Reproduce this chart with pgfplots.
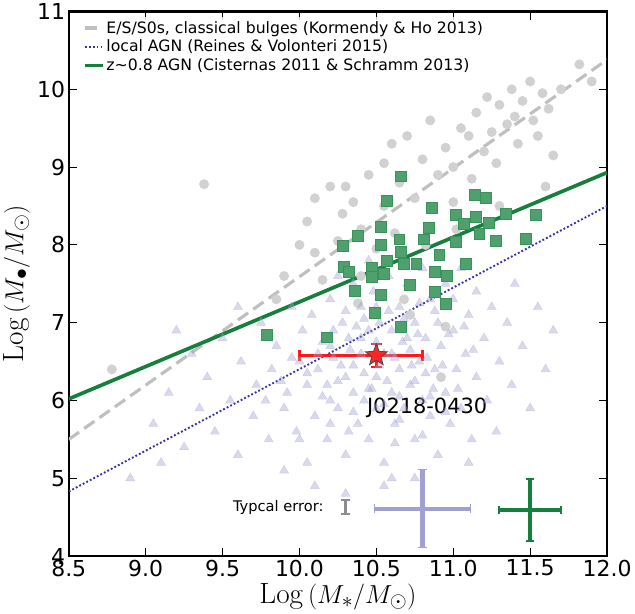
\documentclass[border=0pt]{standalone}
\usepackage{pgfplots}
\pgfplotsset{compat=1.18}
\usepackage{fontspec}
\setmainfont{DejaVu Sans}
\newfontfamily\lmr{Latin Modern Roman}
\definecolor{mgreen}{RGB}{20,128,60}
\definecolor{lav}{RGB}{160,160,210}
\pgfdeclareplotmark{fstar}{%
  \pgfpathmoveto{\pgfpointpolar{90}{\pgfplotmarksize}}%
  \pgfpathlineto{\pgfpointpolar{126}{0.42\pgfplotmarksize}}%
  \pgfpathlineto{\pgfpointpolar{162}{\pgfplotmarksize}}%
  \pgfpathlineto{\pgfpointpolar{198}{0.42\pgfplotmarksize}}%
  \pgfpathlineto{\pgfpointpolar{234}{\pgfplotmarksize}}%
  \pgfpathlineto{\pgfpointpolar{270}{0.42\pgfplotmarksize}}%
  \pgfpathlineto{\pgfpointpolar{306}{\pgfplotmarksize}}%
  \pgfpathlineto{\pgfpointpolar{342}{0.42\pgfplotmarksize}}%
  \pgfpathlineto{\pgfpointpolar{18}{\pgfplotmarksize}}%
  \pgfpathlineto{\pgfpointpolar{54}{0.42\pgfplotmarksize}}%
  \pgfpathclose\pgfusepathqfillstroke}
\begin{document}
\begin{tikzpicture}
\begin{axis}[
  scale only axis, width=515pt, height=521pt,
  xmin=8.5, xmax=12, ymin=4, ymax=11,
  xtick={8.5,9,...,12}, ytick={4,5,...,11},
  /pgf/number format/assume math mode=true,
  xticklabel style={/pgf/number format/.cd,fixed,fixed zerofill,precision=1},
  ticklabel style={font=\fontsize{21}{24}\selectfont},
  tick style={black, line width=1pt}, major tick length=8pt,
  tick align=inside,
  axis line style={line width=2.2pt},
  xlabel={\fontsize{28}{30}\selectfont {\lmr Log}\,$(M_{*}/M_{\odot})$},
  ylabel={\fontsize{28}{30}\selectfont {\lmr Log}\,$(M_{\bullet}/M_{\odot})$},
  legend style={at={(0.02,0.99)}, anchor=north west, draw=none, fill=white, fill opacity=0.8, text opacity=1, font=\fontsize{15}{18}\selectfont, row sep=1pt},
  legend cell align=left,
  clip=true,
]
% gray circles
\addplot[only marks, mark=*, mark size=4.5pt, color=black!18, forget plot] coordinates {
(8.78,6.4)(9.38,8.78)(9.85,7.3)(10.0,8.0)(10.05,8.3)(10.1,8.6)(10.15,7.55)(10.2,8.75)(10.28,8.4)(10.3,8.75)(10.35,8.55)(10.38,7.25)(10.4,8.2)(10.45,8.9)(10.5,7.95)(10.55,8.5)(10.6,9.3)(10.62,8.15)(10.65,8.8)(10.7,9.4)(10.72,7.1)(10.75,8.6)(10.8,9.1)(10.82,8.0)(10.85,9.6)(10.9,8.9)(10.92,6.3)(10.95,9.25)(11.0,9.0)(11.02,8.2)(11.05,9.5)(11.1,9.4)(11.12,8.85)(11.15,9.7)(11.2,9.2)(11.22,9.9)(11.25,9.45)(11.28,9.05)(11.3,9.8)(11.35,9.55)(11.38,10.0)(11.4,9.65)(11.42,9.3)(11.45,9.85)(11.5,10.1)(11.52,9.6)(11.55,9.4)(11.58,9.95)(11.62,9.75)(11.65,9.15)(11.7,10.0)(11.82,10.32)(11.9,10.1)(10.4,7.6)(10.68,7.3)(10.1,7.9)(9.9,7.6)(10.25,8.05)(10.55,9.05)(11.0,8.55)(11.3,8.5)(10.95,6.95)(11.6,8.75)
};
% triangles
\addplot[only marks, mark=triangle*, mark size=5pt, color=lav, opacity=0.4, forget plot] coordinates {
(8.9,5.0)(9.05,5.7)(9.15,6.1)(9.25,5.4)(9.3,6.6)(9.35,5.9)(9.4,6.3)(9.45,5.6)(9.5,6.8)(9.55,6.0)(9.6,5.3)(9.62,6.5)(9.7,5.8)(9.72,6.2)(9.75,7.0)(9.8,5.5)(9.82,6.4)(9.85,6.7)(9.9,5.9)(9.92,6.1)(9.95,7.2)(9.98,5.6)(10.0,6.5)(10.02,6.9)(10.05,5.2)(10.05,6.2)(10.08,7.1)(10.1,5.8)(10.12,6.4)(10.15,6.75)(10.18,5.5)(10.2,7.3)(10.2,6.0)(10.22,6.55)(10.25,5.9)(10.28,7.0)(10.3,6.3)(10.3,5.3)(10.32,6.8)(10.35,7.5)(10.35,6.1)(10.38,5.7)(10.4,6.6)(10.4,7.2)(10.42,6.0)(10.45,6.9)(10.45,5.5)(10.48,7.4)(10.5,6.3)(10.5,5.9)(10.52,7.0)(10.55,6.6)(10.55,5.2)(10.58,7.6)(10.6,6.1)(10.6,6.9)(10.62,5.7)(10.65,7.2)(10.65,6.4)(10.68,5.9)(10.7,6.8)(10.7,7.5)(10.72,6.2)(10.75,5.5)(10.75,7.0)(10.78,6.5)(10.8,7.7)(10.8,6.0)(10.82,6.8)(10.85,7.3)(10.85,5.8)(10.88,6.4)(10.9,7.0)(10.9,5.3)(10.92,6.7)(10.95,7.5)(10.95,6.1)(10.98,5.7)(11.0,6.9)(11.0,7.3)(11.02,6.4)(11.05,5.9)(11.05,7.7)(11.08,6.6)(11.1,7.1)(11.12,5.5)(11.15,6.3)(11.15,7.4)(11.2,6.8)(11.22,6.0)(11.25,7.2)(11.28,5.6)(11.3,6.5)(11.35,7.0)(11.38,6.2)(11.4,7.5)(11.45,6.7)(11.5,5.9)(11.55,7.2)(11.6,6.4)(11.65,6.9)(9.6,7.2)(9.2,6.9)(9.1,5.2)(10.1,4.9)(10.3,4.8)(10.55,4.9)(10.6,5.0)(10.75,5.0)(9.9,5.1)(10.45,7.8)(10.25,7.6)(11.1,5.2)(10.0,5.5)(10.35,6.45)(10.65,6.05)(10.5,6.75)
(10.12,6.6)(10.18,6.2)(10.22,6.9)(10.27,6.45)(10.33,6.65)(10.37,6.95)(10.42,6.35)(10.47,6.15)(10.52,6.45)(10.57,6.25)(10.62,6.55)(10.67,6.75)(10.73,6.45)(10.77,6.85)(10.83,6.55)(10.87,6.15)(10.93,6.45)(10.97,6.85)(11.03,6.15)(11.07,6.95)(11.13,6.65)(10.15,6.05)(10.25,6.25)(10.35,5.85)(10.45,6.15)(10.55,5.95)(10.65,5.75)(10.75,6.25)(10.85,6.05)(10.95,5.85)(10.05,6.35)(9.95,6.55)(9.88,6.25)(10.42,7.05)(10.58,7.15)(10.68,7.05)(10.78,7.25)(10.88,7.15)(10.3,7.15)(10.2,6.7)(10.6,6.6)(10.72,6.65)(10.82,6.35)(10.4,6.8)(10.5,7.2)(10.32,5.6)(10.62,5.45)(10.8,5.55)(10.2,5.7)(9.78,6.0)
};
% green squares
\addplot[only marks, mark=square*, mark size=5.2pt, mark options={draw=mgreen!85!white, line width=0.8pt, fill=mgreen!75!white}, forget plot] coordinates {
(10.66,8.88)(10.57,8.56)(10.86,8.48)(11.14,8.64)(11.21,8.60)(11.02,8.38)(11.15,8.36)(11.07,8.27)(11.23,8.28)(11.34,8.40)(10.53,8.23)(10.84,8.22)(10.38,8.11)(10.65,8.07)(10.81,8.07)(11.17,8.14)(11.28,8.05)(11.02,8.04)(10.28,7.99)(10.53,8.00)(10.66,7.91)(10.91,7.87)(10.29,7.72)(10.32,7.65)(10.47,7.71)(10.57,7.79)(10.68,7.76)(10.76,7.76)(10.55,7.63)(10.88,7.65)(10.96,7.60)(11.08,7.75)(10.47,7.59)(10.72,7.49)(10.36,7.41)(10.53,7.36)(10.88,7.39)(10.95,7.24)(10.49,7.12)(10.66,6.94)(10.18,6.81)(9.79,6.84)(11.47,8.08)(11.54,8.39)
};
\addplot[line width=3pt, color=black!25, dash pattern=on 12pt off 6pt] coordinates {(8.5,5.5)(12,10.38)};
\addlegendentry{E/S/S0s, classical bulges (Kormendy \& Ho 2013)}
\addplot[dotted, line width=1.8pt, color=blue!60!black!80] coordinates {(8.5,4.83)(12,8.5)};
\addlegendentry{local AGN (Reines \& Volonteri 2015)}
\addplot[line width=3.5pt, color=mgreen] coordinates {(8.5,6.02)(12,8.93)};
\addlegendentry{z\string~0.8 AGN (Cisternas 2011 \& Schramm 2013)}
% star with errors
\addplot[no markers, draw=none, forget plot, error bars/.cd, x dir=both, y dir=both, x explicit, y explicit, error bar style={line width=3pt, red!90}, error mark options={rotate=90, mark size=5pt, line width=2pt, red!90}]
  coordinates {(10.5,6.58) += (0.3,0.15) -= (0.5,0.15)};
\addplot[only marks, mark=fstar, mark size=11pt, forget plot, mark options={fill=red!85, draw=black!70, line width=0.8pt}] coordinates {(10.5,6.58)};
% typical errors
\addplot[no markers, draw=none, forget plot, error bars/.cd, y dir=both, y explicit, error bar style={line width=3pt, black!45}, error mark options={rotate=90, mark size=4pt, line width=2.5pt, black!45}]
  coordinates {(10.30,4.63) +- (0,0.09)};
\addplot[no markers, draw=none, forget plot, error bars/.cd, x dir=both, y dir=both, x explicit, y explicit, error bar style={line width=4pt, lav}, error mark options={rotate=90, mark size=4pt, line width=1pt, lav}]
  coordinates {(10.80,4.61) +- (0.31,0.5)};
\addplot[no markers, draw=none, forget plot, error bars/.cd, x dir=both, y dir=both, x explicit, y explicit, error bar style={line width=3.5pt, mgreen}, error mark options={rotate=90, mark size=4pt, line width=2pt, mgreen}]
  coordinates {(11.5,4.59) +- (0.2,0.4)};
\node[font=\fontsize{14}{16}\selectfont, anchor=east] at (axis cs:10.18,4.63) {Typcal error:};
\node[font=\fontsize{20}{24}\selectfont] at (axis cs:10.83,5.9) {J0218-0430};
\end{axis}
\end{tikzpicture}
\end{document}
